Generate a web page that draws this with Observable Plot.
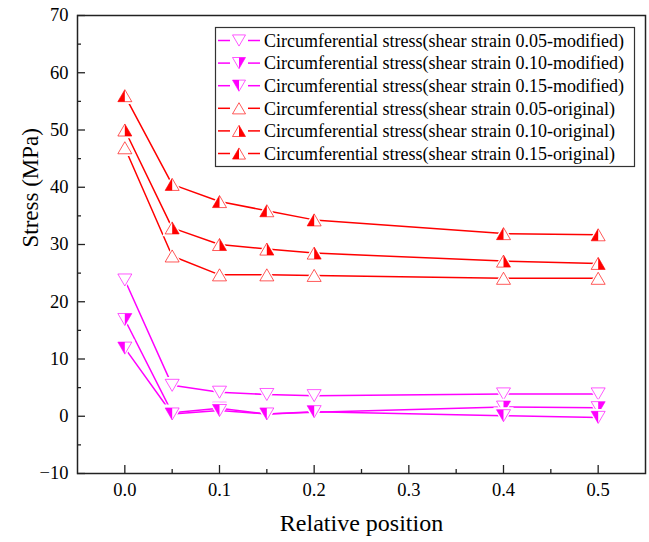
<!DOCTYPE html>
<html>
<head>
<meta charset="utf-8">
<script src="https://cdn.jsdelivr.net/npm/d3@7"></script>
<script src="https://cdn.jsdelivr.net/npm/@observablehq/plot@0.6"></script>
<style>
  html, body { margin: 0; padding: 0; background: white; }
  #chart { position: relative; width: 649px; height: 542px; }
</style>
</head>
<body>
<div id="chart"></div>
<script>
// ---- data ----
const positions = [0, 0.05, 0.1, 0.15, 0.2, 0.4, 0.5];
const mod005  = [23.8, 5.4, 4.2, 3.8, 3.6, 3.9, 3.9];
const mod010  = [16.9, 0.6, 1.4, 0.4, 0.7, 1.6, 1.5];
const mod015  = [11.9, 0.4, 1.0, 0.4, 0.8, 0.1, -0.2];
const orig005 = [46.9, 28.0, 24.7, 24.7, 24.6, 24.1, 24.1];
const orig010 = [50.0, 32.9, 30.0, 29.2, 28.5, 27.1, 26.7];
const orig015 = [56.0, 40.5, 37.5, 35.9, 34.3, 31.9, 31.7];
const seriesNames = [
  "Circumferential stress(shear strain 0.05-modified)",
  "Circumferential stress(shear strain 0.10-modified)",
  "Circumferential stress(shear strain 0.15-modified)",
  "Circumferential stress(shear strain 0.05-original)",
  "Circumferential stress(shear strain 0.10-original)",
  "Circumferential stress(shear strain 0.15-original)"
];
const seriesValues = [mod005, mod010, mod015, orig005, orig010, orig015];
const seriesColors = ["#ff00ff", "#ff00ff", "#ff00ff", "#ff0000", "#ff0000", "#ff0000"];
const seriesDir = ["down", "down", "down", "up", "up", "up"];
const seriesFill = ["none", "right", "left", "none", "right", "left"];
const xMajor = [0, 0.1, 0.2, 0.3, 0.4, 0.5];
const xMinor = [0.05, 0.15, 0.25, 0.35, 0.45];
const yMajor = [-10, 0, 10, 20, 30, 40, 50, 60, 70];
const yMinor = [-5, 5, 15, 25, 35, 45, 55, 65];

// ---- custom triangle symbols ----
function tri(dir, part) {
  return {
    draw(ctx, size) {
      const r = Math.sqrt(size / Math.PI);
      const h = r * 0.86;
      const s = dir === "up" ? 1 : -1;
      const apexY = -s * h, baseY = s * h;
      if (part === "full") {
        ctx.moveTo(0, apexY); ctx.lineTo(r, baseY); ctx.lineTo(-r, baseY); ctx.closePath();
      } else if (part === "right") {
        ctx.moveTo(0, apexY); ctx.lineTo(r, baseY); ctx.lineTo(0, baseY); ctx.closePath();
      } else if (part === "left") {
        ctx.moveTo(0, apexY); ctx.lineTo(0, baseY); ctx.lineTo(-r, baseY); ctx.closePath();
      }
    }
  };
}

const rows = [];
seriesNames.forEach((name, i) => {
  positions.forEach((p, j) => rows.push({series: name, idx: i, x: p, y: seriesValues[i][j]}));
});

const W = 649, H = 542, mL = 77, mR = 4, mT = 15, mB = 69;
const R = 7;
const marks = [];
seriesNames.forEach((name, i) => {
  marks.push(Plot.line(rows.filter(d => d.idx === i), {x: "x", y: "y", stroke: seriesColors[i], strokeWidth: 1.5}));
});
seriesNames.forEach((name, i) => {
  const data = rows.filter(d => d.idx === i);
  marks.push(Plot.dot(data, {x: "x", y: "y", r: R + 1.5, symbol: tri(seriesDir[i], "full"), fill: "white", stroke: "white", strokeWidth: 2}));
  if (seriesFill[i] !== "none") {
    marks.push(Plot.dot(data, {x: "x", y: "y", r: R, symbol: tri(seriesDir[i], seriesFill[i]), fill: seriesColors[i], stroke: "none"}));
  }
  marks.push(Plot.dot(data, {x: "x", y: "y", r: R, symbol: tri(seriesDir[i], "full"), fill: "none", stroke: seriesColors[i], strokeWidth: 1, strokeOpacity: 0.65}));
});

const font = "'Liberation Serif', 'Times New Roman', serif";
const chart = Plot.plot({
  width: W,
  height: H,
  marginLeft: mL,
  marginRight: mR,
  marginTop: mT,
  marginBottom: mB,
  style: {fontFamily: font, background: "white", color: "black"},
  x: {domain: [-0.05, 0.55]},
  y: {domain: [-10, 70]},
  marks: [
    Plot.axisX({ticks: xMajor, tickSize: 0, tickPadding: 9, tickFormat: d3.format(".1f"), fontSize: 18.5, fontFamily: font, label: null}),
    Plot.axisY({ticks: yMajor, tickSize: 0, tickPadding: 9, tickFormat: d3.format("d"), fontSize: 18.5, fontFamily: font, label: null}),
    // inward ticks (drawn outward then shifted inside the frame)
    Plot.axisX({ticks: xMajor, tickSize: 8, dy: -8, tickFormat: () => "", label: null, stroke: "#222", strokeWidth: 1.3}),
    Plot.axisX({ticks: xMinor, tickSize: 4, dy: -4, tickFormat: () => "", label: null, stroke: "#222", strokeWidth: 1.3}),
    Plot.axisY({ticks: yMajor, tickSize: 8, dx: 8, tickFormat: () => "", label: null, stroke: "#222", strokeWidth: 1.3}),
    Plot.axisY({ticks: yMinor, tickSize: 4, dx: 4, tickFormat: () => "", label: null, stroke: "#222", strokeWidth: 1.3}),
    ...marks,
    Plot.frame({stroke: "#222", strokeWidth: 1.5}),
    Plot.text(["Relative position"], {frameAnchor: "bottom", dy: 57, fontSize: 24, fontFamily: font, fill: "black"}),
    Plot.text(["Stress (MPa)"], {frameAnchor: "left", dx: -47, dy: 3, rotate: -90, fontSize: 23, fontFamily: font, fill: "black"})
  ]
});
document.getElementById("chart").appendChild(chart);

// ---- legend (inside plot frame) ----
const svg = d3.select(chart);
const lg = svg.append("g").attr("font-family", font).attr("text-anchor", "start");
const lx = 215.5, ly = 27.5, lw = 419, lh = 139;
lg.append("rect").attr("x", lx).attr("y", ly).attr("width", lw).attr("height", lh)
  .attr("fill", "white").attr("stroke", "#333").attr("stroke-width", 1.2);
seriesNames.forEach((name, i) => {
  const cy = 40.5 + i * 22.6;
  const c = seriesColors[i];
  lg.append("line").attr("x1", 218).attr("x2", 230).attr("y1", cy).attr("y2", cy).attr("stroke", c).attr("stroke-width", 1.5);
  lg.append("line").attr("x1", 248).attr("x2", 260).attr("y1", cy).attr("y2", cy).attr("stroke", c).attr("stroke-width", 1.5);
  const g = lg.append("g").attr("transform", `translate(239,${cy})`);
  const size = Math.PI * 6.5 * 6.5;
  if (seriesFill[i] !== "none") {
    g.append("path").attr("d", d3.symbol(tri(seriesDir[i], seriesFill[i]), size)()).attr("fill", c);
  }
  g.append("path").attr("d", d3.symbol(tri(seriesDir[i], "full"), size)()).attr("fill", "none").attr("stroke", c).attr("stroke-opacity", 0.65);
  lg.append("text").attr("x", 264).attr("y", cy).attr("dy", "0.35em").attr("font-size", 18).attr("fill", "black").attr("text-anchor", "start").text(name);
});
</script>
</body>
</html>
